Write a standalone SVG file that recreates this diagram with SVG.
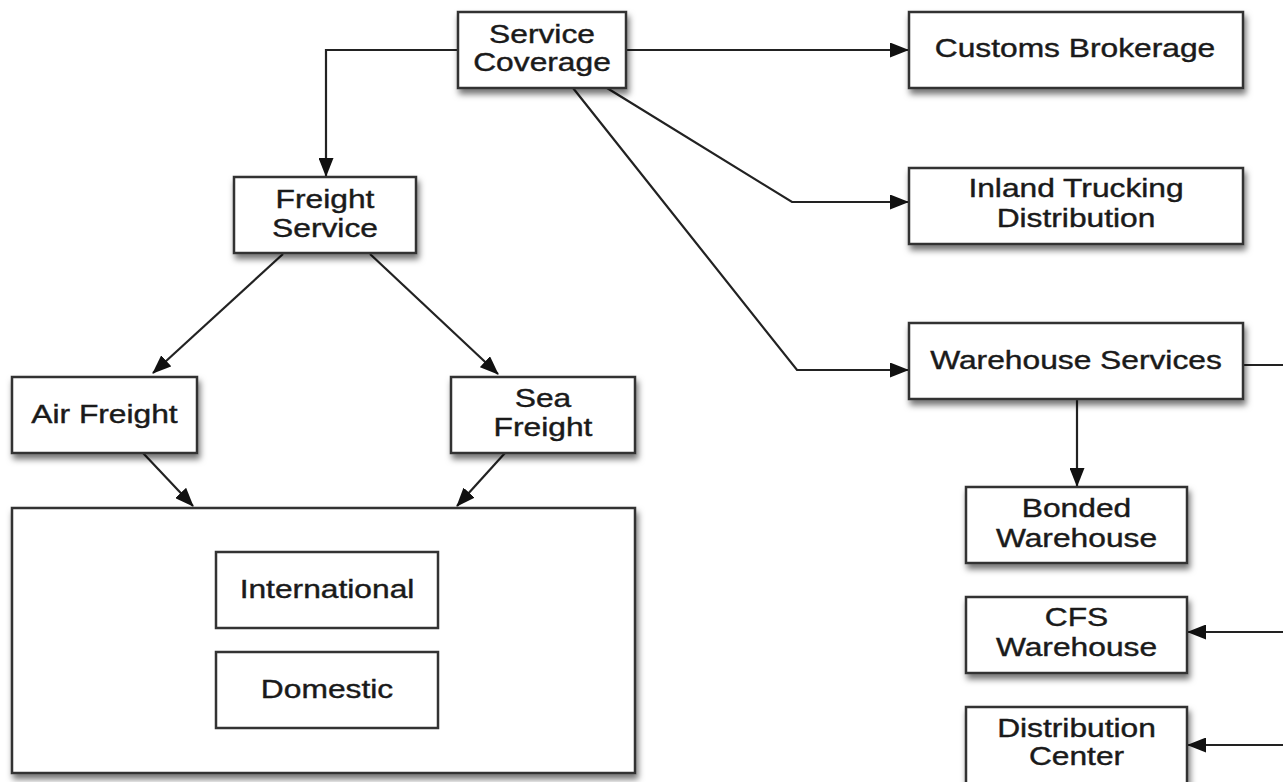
<svg xmlns="http://www.w3.org/2000/svg" width="1283" height="782" viewBox="0 0 1283 782">
<style>
.box{fill:#fff;stroke:#333;stroke-width:2.5;filter:url(#sh)}
.inner{fill:#fff;stroke:#333;stroke-width:2.5}
.t{font-family:"Liberation Sans",Arial,sans-serif;font-size:25px;fill:#1a1a1a;stroke:#1a1a1a;stroke-width:0.4;text-anchor:middle}
.c{fill:none;stroke:#222;stroke-width:2.2;marker-end:url(#ah)}
.l{fill:none;stroke:#222;stroke-width:2.2}
</style>
<defs>
<filter id="sh" x="-10%" y="-20%" width="130%" height="160%">
<feDropShadow dx="2" dy="5" stdDeviation="3" flood-color="#000" flood-opacity="0.55"/>
</filter>
<marker id="ah" markerUnits="userSpaceOnUse" markerWidth="19" markerHeight="15" refX="18" refY="7.5" orient="auto">
<path d="M0,0 L19,7.5 L0,15 z" fill="#111"/>
</marker>
</defs>
<rect width="1283" height="782" fill="#fff"/>
<g id="connectors">
<path class="c" d="M458,50 H326 V176"/>
<path class="c" d="M626,50 H908"/>
<path class="c" d="M607,88 L792,202 H908"/>
<path class="c" d="M573,88 L797,370 H908"/>
<path class="c" d="M283,254 L153,373"/>
<path class="c" d="M370,254 L498,374"/>
<path class="c" d="M143,453 L193,506"/>
<path class="c" d="M505,453 L457,506"/>
<path class="c" d="M1077,399 V486"/>
<path class="l" d="M1243,365 H1283"/>
<path class="c" d="M1283,632 H1188"/>
<path class="c" d="M1283,745 H1188"/>
</g>
<g id="service-coverage">
<rect class="box" x="458" y="12" width="168" height="76"/>
<text class="t" transform="translate(542,43) scale(1.27,1)">Service</text>
<text class="t" transform="translate(542,71) scale(1.27,1)">Coverage</text>
</g>
<g id="customs-brokerage">
<rect class="box" x="909" y="12" width="334" height="76"/>
<text class="t" transform="translate(1075,57) scale(1.27,1)">Customs Brokerage</text>
</g>
<g id="inland-trucking">
<rect class="box" x="909" y="168" width="334" height="76"/>
<text class="t" transform="translate(1076,197) scale(1.27,1)">Inland Trucking</text>
<text class="t" transform="translate(1076,227) scale(1.27,1)">Distribution</text>
</g>
<g id="warehouse-services">
<rect class="box" x="909" y="323" width="334" height="76"/>
<text class="t" transform="translate(1076,369) scale(1.27,1)">Warehouse Services</text>
</g>
<g id="bonded-warehouse">
<rect class="box" x="966" y="487" width="221" height="76"/>
<text class="t" transform="translate(1076.5,517) scale(1.27,1)">Bonded</text>
<text class="t" transform="translate(1076.5,547) scale(1.27,1)">Warehouse</text>
</g>
<g id="cfs-warehouse">
<rect class="box" x="966" y="597" width="221" height="76"/>
<text class="t" transform="translate(1076.5,626) scale(1.27,1)">CFS</text>
<text class="t" transform="translate(1076.5,656) scale(1.27,1)">Warehouse</text>
</g>
<g id="distribution-center">
<rect class="box" x="966" y="707" width="221" height="78"/>
<text class="t" transform="translate(1076.5,737) scale(1.27,1)">Distribution</text>
<text class="t" transform="translate(1076.5,765) scale(1.27,1)">Center</text>
</g>
<g id="freight-service">
<rect class="box" x="234" y="177" width="182" height="76"/>
<text class="t" transform="translate(325,208) scale(1.27,1)">Freight</text>
<text class="t" transform="translate(325,237) scale(1.27,1)">Service</text>
</g>
<g id="air-freight">
<rect class="box" x="12" y="377" width="185" height="76"/>
<text class="t" transform="translate(104.5,423) scale(1.27,1)">Air Freight</text>
</g>
<g id="sea-freight">
<rect class="box" x="451" y="377" width="184" height="76"/>
<text class="t" transform="translate(543,407) scale(1.27,1)">Sea</text>
<text class="t" transform="translate(543,436) scale(1.27,1)">Freight</text>
</g>
<g id="freight-scope">
<rect class="box" x="12" y="508" width="623" height="265"/>
</g>
<g id="international">
<rect class="inner" x="216" y="552" width="222" height="76"/>
<text class="t" transform="translate(327,598) scale(1.27,1)">International</text>
</g>
<g id="domestic">
<rect class="inner" x="216" y="652" width="222" height="76"/>
<text class="t" transform="translate(327,698) scale(1.27,1)">Domestic</text>
</g>
</svg>
